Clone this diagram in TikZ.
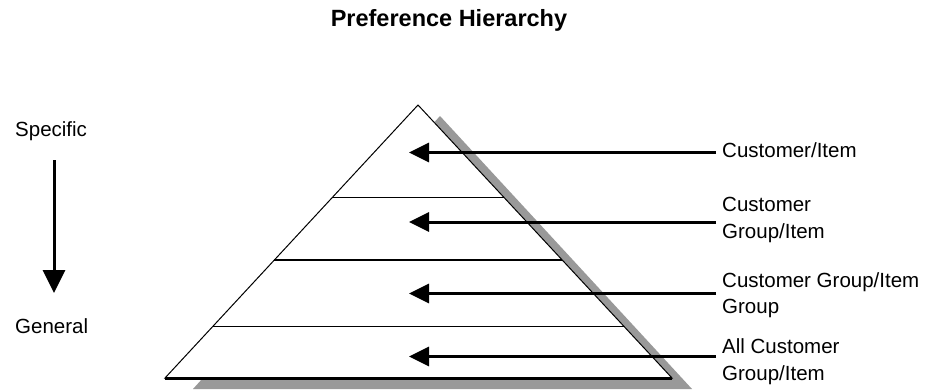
\documentclass[tikz,border=0pt]{standalone}
\usepackage{fontspec}
\setmainfont{Liberation Sans}
\usetikzlibrary{arrows.meta,calc}
\definecolor{shadowgray}{RGB}{153,153,153}
\begin{document}
\begin{tikzpicture}[x=1pt,y=-1pt,
  lab/.style={font=\fontsize{20.5}{26.6}\selectfont, inner sep=0pt, align=left, anchor=north west},
  side/.style={font=\fontsize{20.5}{24}\selectfont, inner sep=0pt, anchor=base west},
  ptr/.style={line width=3pt, -{Triangle[width=19pt,length=20pt]}},
  down/.style={line width=3pt, -{Triangle[width=22pt,length=23pt]}},
  divider/.style={line width=1.8pt},
  edge/.style={line width=1pt}]
\useasboundingbox (0,0) rectangle (928,389);

% title
\node[font=\bfseries\fontsize{23.5}{28}\selectfont, inner sep=0pt, anchor=base] (title) at (449,26.7) {Preference Hierarchy};

% pyramid corners
\coordinate (apex) at (418,105);
\coordinate (bl) at (165,378);
\coordinate (br) at (672,378);

% shadow
\coordinate (sa) at (440,116);
\coordinate (sl) at (193,389);
\coordinate (sr) at (692,389);
\fill[fill=shadowgray] (sa) -- (sl) -- (sr) -- cycle;

% pyramid
\filldraw[fill=white, edge] (apex) -- (bl) -- (br) -- cycle;
\draw[line width=3pt] (bl) -- (br);

% dividers
\foreach \t [count=\i] in {0.339,0.568,0.811}{
  \coordinate (dl\i) at ($(apex)!\t!(bl)$);
  \coordinate (dr\i) at ($(apex)!\t!(br)$);
  \draw[divider] (dl\i) -- (dr\i);
}

% labels
\node[side] (spec) at (15,136.7) {Specific};
\node[side] (gen) at (15,333.3) {General};
\coordinate (vtop) at (54,160);
\coordinate (vbot) at (54,293);
\draw[down] (vtop) -- (vbot);

\node[lab] (l1) at (722,142) {Customer/Item};
\node[lab] (l2) at (722,197) {Customer\\Group/Item};
\node[lab] (l3) at (722,272) {Customer Group/Item\\Group};
\node[lab] (l4) at (722,338.6) {All Customer\\Group/Item};

% arrows
\foreach \y [count=\i] in {152.5,222,293.5,356.5}{
  \coordinate (s\i) at (716,\y);
  \coordinate (t\i) at (409,\y);
  \draw[ptr] (s\i) -- (t\i);
}
\end{tikzpicture}
\end{document}
